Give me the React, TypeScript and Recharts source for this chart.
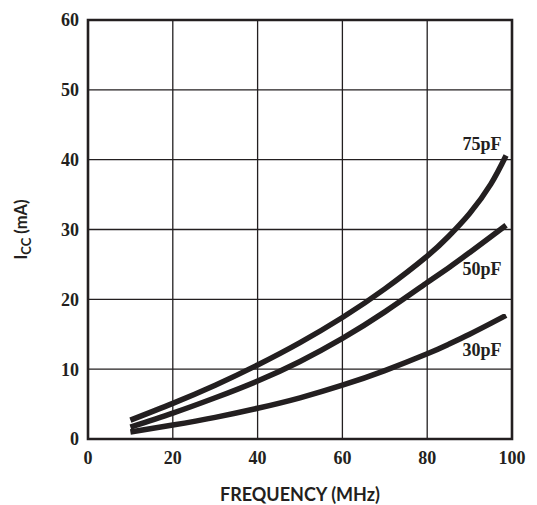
import React from 'react';
import { LineChart, Line, XAxis, YAxis, CartesianGrid, ReferenceArea, LabelList, Label } from 'recharts';

const frequency = [10, 20, 30, 40, 50, 60, 70, 80, 85, 90, 95, 98.6];
const icc75 = [2.7, 5.1, 7.7, 10.6, 13.8, 17.4, 21.5, 26.2, 29.0, 32.3, 36.5, 40.6];
const icc50 = [1.7, 3.7, 5.9, 8.3, 11.1, 14.4, 18.2, 22.4, 24.5, 26.7, 28.95, 30.6];
const icc30 = [1.0, 2.0, 3.1, 4.4, 5.9, 7.7, 9.8, 12.2, 13.55, 15.0, 16.55, 17.7];
const xTicks = [0, 20, 40, 60, 80, 100];
const yTicks = [0, 10, 20, 30, 40, 50, 60];
const seriesNames = ['75pF', '50pF', '30pF'];

const data = frequency.map((f, i) => ({ f, c75: icc75[i], c50: icc50[i], c30: icc30[i] }));

const INK = '#231f20';
const numFont = { fontFamily: 'Liberation Serif', fontSize: 18, fontWeight: 700, fill: INK };

const makeEndLabel = (name: string, dy: number) => (props: any) => {
  const { x, y, index } = props;
  if (index !== frequency.length - 1) return null;
  return (
    <text x={x - 4.5} y={y + dy} textAnchor="end" dominantBaseline="central"
      fontFamily="Liberation Serif" fontSize={18} fontWeight={700} fill={INK}>
      {name}
    </text>
  );
};

const YTitle = (props: any) => {
  const vb = props.viewBox || {};
  const cx = 27;
  const cy = vb.y + vb.height / 2;
  return (
    <text x={cx} y={cy} transform={`rotate(-90, ${cx}, ${cy})`} textAnchor="middle"
      fontFamily="Lato" fontWeight={700} fontSize={16.5} fill={INK}>
      <tspan>I</tspan>
      <tspan fontSize={13} dy={4}>CC</tspan>
      <tspan dy={-4}> (mA)</tspan>
    </text>
  );
};

const XTitle = (props: any) => {
  const vb = props.viewBox || {};
  return (
    <text x={vb.x + vb.width / 2} y={500.5} textAnchor="middle"
      fontFamily="Lato" fontWeight={700} fontSize={18} fill={INK}>
      FREQUENCY (MHz)
    </text>
  );
};

export default function App() {
  return (
    <div style={{ position: 'absolute', left: 0, top: 0, width: 537, height: 505, background: '#fff' }}>
      <LineChart width={537} height={505} data={data}
        margin={{ top: 20, right: 25, left: 28, bottom: 26 }}>
        <CartesianGrid stroke={INK} strokeWidth={1.3} strokeOpacity={1} />
        <XAxis dataKey="f" type="number" domain={[0, 100]} ticks={xTicks}
          axisLine={false} tickLine={false} tickSize={0} tickMargin={12}
          height={40} tick={numFont} interval={0}>
          <Label content={<XTitle />} />
        </XAxis>
        <YAxis type="number" domain={[0, 60]} ticks={yTicks}
          axisLine={false} tickLine={false} tickSize={0} tickMargin={9}
          width={60} tick={numFont} interval={0}>
          <Label content={<YTitle />} />
        </YAxis>
        <ReferenceArea x1={0} x2={100} y1={0} y2={60} fill="none" fillOpacity={0}
          stroke={INK} strokeWidth={2.6} />
        <Line dataKey="c75" type="natural" stroke={INK} strokeWidth={5.5} dot={false}
          isAnimationActive={false}>
          <LabelList dataKey="c75" content={makeEndLabel(seriesNames[0], -11)} />
        </Line>
        <Line dataKey="c50" type="natural" stroke={INK} strokeWidth={5.5} dot={false}
          isAnimationActive={false}>
          <LabelList dataKey="c50" content={makeEndLabel(seriesNames[1], 44)} />
        </Line>
        <Line dataKey="c30" type="natural" stroke={INK} strokeWidth={5.5} dot={false}
          isAnimationActive={false}>
          <LabelList dataKey="c30" content={makeEndLabel(seriesNames[2], 35)} />
        </Line>
      </LineChart>
    </div>
  );
}
